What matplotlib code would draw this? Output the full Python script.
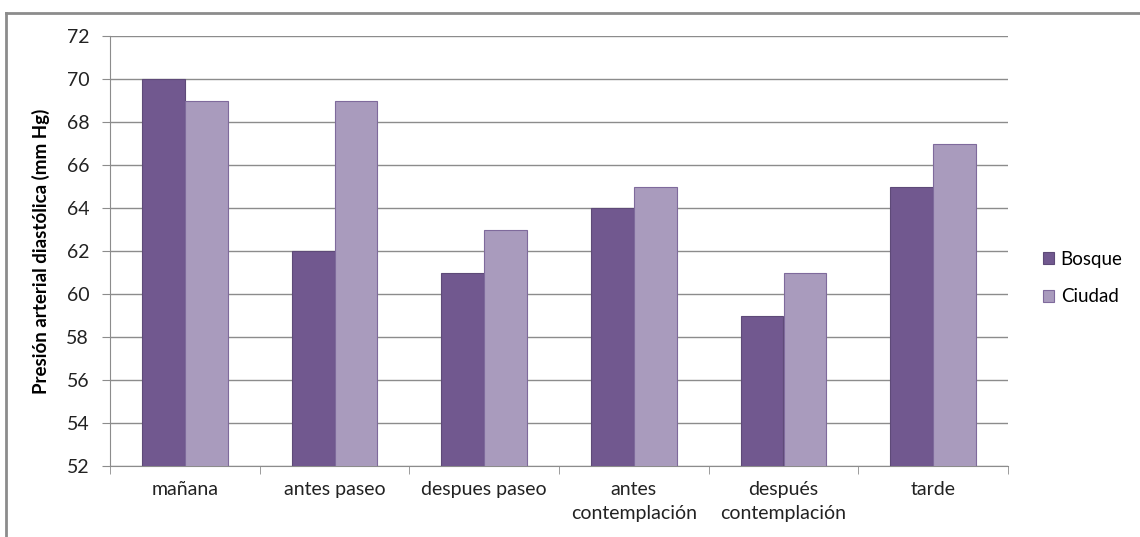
import matplotlib.pyplot as plt
import numpy as np
from matplotlib.lines import Line2D

# datos
categorias = ["mañana", "antes paseo", "despues paseo", "antes\ncontemplación",
              "después\ncontemplación", "tarde"]
bosque = [70, 62, 61, 64, 59, 65]
ciudad = [69, 69, 63, 65, 61, 67]
yticks = list(range(52, 73, 2))

plt.rcParams['font.family'] = ['Lato', 'DejaVu Sans']

fig = plt.figure(figsize=(11.4, 5.37), dpi=100)
ax = fig.add_axes([110 / 1140, 1 - 466 / 537, (1008 - 110) / 1140, (466 - 36) / 537])

x = np.arange(len(categorias))
w = 1 / 3.5
ax.bar(x - w / 2, bosque, w, color="#71588F", edgecolor="#5E4A78", linewidth=0.8,
       label="Bosque", zorder=3)
ax.bar(x + w / 2, ciudad, w, color="#A99BBD", edgecolor="#7F6A9C", linewidth=0.8,
       label="Ciudad", zorder=3)

ax.set_ylim(52, 72)
ax.set_xlim(-0.5, len(categorias) - 0.5)
ax.set_yticks(yticks)
ax.yaxis.grid(True, color="#8C8C8C", linewidth=1)
ax.set_axisbelow(True)
for s in ["top", "right"]:
    ax.spines[s].set_visible(False)
ax.spines["left"].set_color("#8C8C8C")
ax.spines["bottom"].set_color("#8C8C8C")

ax.set_xticks(x)
ax.set_xticklabels(categorias, fontsize=14, color="#222222", linespacing=1.45)
ax.tick_params(axis="x", length=0, pad=11)
ax.set_xticks(np.arange(-0.5, len(categorias), 1), minor=True)
ax.tick_params(axis="x", which="minor", length=6, color="#8C8C8C")
ax.tick_params(axis="y", length=6, color="#8C8C8C", labelsize=14, labelcolor="#222222", pad=9)
ax.set_ylabel("Presión arterial diastólica (mm Hg)", fontsize=13.5, fontweight="bold",
              labelpad=12)

ax.legend(loc="center left", bbox_to_anchor=(1.02, 0.437), frameon=False, fontsize=13.5,
          handlelength=0.6, handleheight=0.6, handletextpad=0.35, labelspacing=1.1)

# borde exterior del grafico
fig.add_artist(Line2D([6 / 1140, 6 / 1140], [0, 1 - 13 / 537], color="#8C8C8C", lw=2))
fig.add_artist(Line2D([6 / 1140, 1], [1 - 13 / 537, 1 - 13 / 537], color="#8C8C8C", lw=2))

fig.savefig("out.png", dpi=100)
